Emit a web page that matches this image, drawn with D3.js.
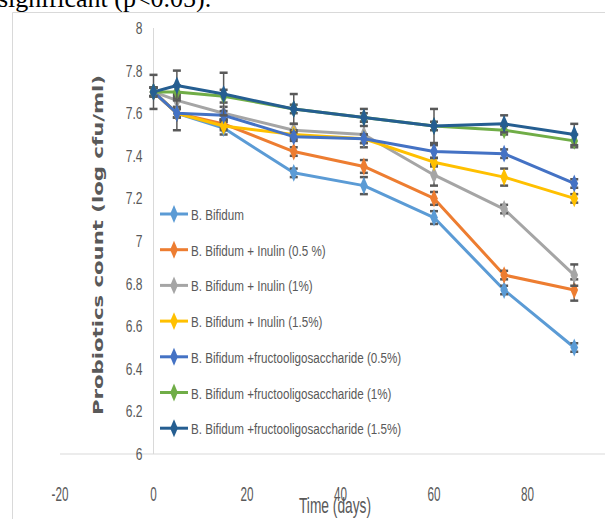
<!DOCTYPE html>
<html lang="en">
<head>
    <meta charset="UTF-8">
    <title>Probiotics count over time</title>
    <script src="https://d3js.org/d3.v7.min.js"></script>
    <style>
        body { margin: 0; background: #fff; }
        .narrow { font-family: "Liberation Sans", Arial, sans-serif; fill: #595959; }
    </style>
</head>
<body>
    <svg class="chart"></svg>

    <script>
        // sampling days
        var days = [0, 5, 15, 30, 45, 60, 75, 90];

        var seriesNames = [
            'B. Bifidum',
            'B. Bifidum + Inulin (0.5 %)',
            'B. Bifidum + Inulin (1%)',
            'B. Bifidum + Inulin (1.5%)',
            'B. Bifidum +fructooligosaccharide (0.5%)',
            'B. Bifidum +fructooligosaccharide (1%)',
            'B. Bifidum +fructooligosaccharide (1.5%)'
        ];
        var seriesColors = ['#5B9BD5', '#ED7D31', '#A5A5A5', '#FFC000', '#4472C4', '#70AD47', '#255E91'];

        // log cfu/ml
        var bifidum      = [7.70, 7.60, 7.53, 7.32, 7.26, 7.11, 6.77, 6.50];
        var inulin05     = [7.70, 7.60, 7.55, 7.42, 7.35, 7.20, 6.84, 6.77];
        var inulin1      = [7.70, 7.66, 7.60, 7.52, 7.50, 7.31, 7.15, 6.84];
        var inulin15     = [7.70, 7.60, 7.54, 7.50, 7.48, 7.37, 7.30, 7.20];
        var fos05        = [7.70, 7.60, 7.59, 7.49, 7.48, 7.42, 7.41, 7.27];
        var fos1         = [7.70, 7.70, 7.68, 7.62, 7.58, 7.54, 7.52, 7.47];
        var fos15        = [7.70, 7.73, 7.69, 7.62, 7.58, 7.54, 7.55, 7.50];

        // error bar half widths
        var bifidumErr   = [0.02, 0.02, 0.03, 0.02, 0.04, 0.03, 0.02, 0.02];
        var inulin05Err  = [0.02, 0.02, 0.02, 0.02, 0.03, 0.03, 0.02, 0.05];
        var inulin1Err   = [0.02, 0.03, 0.03, 0.03, 0.06, 0.05, 0.02, 0.05];
        var inulin15Err  = [0.02, 0.02, 0.02, 0.02, 0.02, 0.02, 0.04, 0.02];
        var fos05Err     = [0.02, 0.08, 0.02, 0.02, 0.02, 0.03, 0.02, 0.02];
        var fos1Err      = [0.02, 0.03, 0.03, 0.02, 0.02, 0.02, 0.02, 0.03];
        var fos15Err     = [0.08, 0.07, 0.10, 0.07, 0.04, 0.08, 0.04, 0.05];

        // the crop stops before the 100 label
        var xTicks = [-20, 0, 20, 40, 60, 80];
        var yTicks = [6, 6.2, 6.4, 6.6, 6.8, 7, 7.2, 7.4, 7.6, 7.8, 8];

        var values = [bifidum, inulin05, inulin1, inulin15, fos05, fos1, fos15];
        var errors = [bifidumErr, inulin05Err, inulin1Err, inulin15Err, fos05Err, fos1Err, fos15Err];

        var svgWidth = 605, svgHeight = 519;

        var svg = d3.select('.chart')
                    .attr('width', svgWidth)
                    .attr('height', svgHeight);

        var x = d3.scaleLinear().domain([-20, 100]).range([60, 621]);
        var y = d3.scaleLinear().domain([6, 8]).range([454, 28]);

        // the figure was stretched tall, so its text looks narrow
        function at(px, py, sx) {
            return 'translate(' + px + ',' + py + ') scale(' + sx + ',1)';
        }

        // text above the figure, cut off by the crop
        svg.append('text')
           .attr('x', -2).attr('y', 7)
           .attr('font-family', '"Liberation Serif", serif')
           .attr('font-size', 26)
           .text('significant (p<0.05).');

        // figure frame
        svg.append('path')
           .attr('d', 'M12.5,' + svgHeight + 'V12.5H' + svgWidth)
           .attr('fill', 'none')
           .attr('stroke', '#d9d9d9');

        // axes lines cross at x=0 and y=6
        svg.append('line')
           .attr('x1', x(-20)).attr('x2', x(100))
           .attr('y1', y(6)).attr('y2', y(6))
           .attr('stroke', '#d9d9d9');
        svg.append('line')
           .attr('x1', x(0)).attr('x2', x(0))
           .attr('y1', y(8)).attr('y2', y(6))
           .attr('stroke', '#d9d9d9');

        // y tick labels
        svg.selectAll('.ytick')
           .data(yTicks)
           .enter().append('text')
           .attr('class', 'narrow')
           .attr('transform', d => at(x(0) - 11, y(d) + 6, 0.71))
           .attr('text-anchor', 'end')
           .attr('font-size', 17)
           .text(d => d3.format('~g')(d));

        // x tick labels sit low, below the plot
        svg.selectAll('.xtick')
           .data(xTicks)
           .enter().append('text')
           .attr('class', 'narrow')
           .attr('transform', d => at(x(d), 501, 0.6))
           .attr('text-anchor', 'middle')
           .attr('font-size', 19.5)
           .text(d => d);

        // axis titles
        svg.append('text')
           .attr('transform', 'translate(103,245) rotate(-90)')
           .attr('text-anchor', 'middle')
           .attr('font-family', '"DejaVu Sans", sans-serif')
           .attr('font-weight', 'bold')
           .attr('font-size', 14)
           .attr('textLength', 340)
           .attr('lengthAdjust', 'spacingAndGlyphs')
           .attr('fill', '#595959')
           .text('Probiotics count (log cfu/ml)');

        svg.append('text')
           .attr('class', 'narrow')
           .attr('transform', at(335, 513, 0.64))
           .attr('text-anchor', 'middle')
           .attr('font-size', 21.5)
           .text('Time (days)');

        var line = d3.line()
                     .x((d, i) => x(days[i]))
                     .y(d => y(d));

        var diamond = d3.symbol().type(d3.symbolDiamond).size(70);

        values.forEach(function (vals, s) {
            var g = svg.append('g');
            var color = seriesColors[s];

            g.append('path')
             .datum(vals)
             .attr('fill', 'none')
             .attr('stroke', color)
             .attr('stroke-width', 3)
             .attr('stroke-linejoin', 'round')
             .attr('d', line);

            // error bars
            var eb = g.selectAll('.err')
                      .data(vals)
                      .enter().append('g')
                      .attr('stroke', '#595959');
            eb.append('line')
              .attr('x1', (d, i) => x(days[i])).attr('x2', (d, i) => x(days[i]))
              .attr('y1', (d, i) => y(d + errors[s][i]))
              .attr('y2', (d, i) => y(d - errors[s][i]))
              .attr('stroke-width', 1.5);
            eb.append('line')
              .attr('x1', (d, i) => x(days[i]) - 4).attr('x2', (d, i) => x(days[i]) + 4)
              .attr('y1', (d, i) => y(d + errors[s][i]))
              .attr('y2', (d, i) => y(d + errors[s][i]))
              .attr('stroke-width', 2.5);
            eb.append('line')
              .attr('x1', (d, i) => x(days[i]) - 4).attr('x2', (d, i) => x(days[i]) + 4)
              .attr('y1', (d, i) => y(d - errors[s][i]))
              .attr('y2', (d, i) => y(d - errors[s][i]))
              .attr('stroke-width', 2.5);

            g.selectAll('.pt')
             .data(vals)
             .enter().append('path')
             .attr('d', diamond)
             .attr('transform', (d, i) => 'translate(' + x(days[i]) + ',' + y(d) + ') scale(0.85,1.15)')
             .attr('fill', color);
        });

        // legend
        var legend = svg.selectAll('.legend')
                        .data(seriesNames)
                        .enter().append('g')
                        .attr('transform', (d, i) => 'translate(160,' + (214 + i * 35.7) + ')');
        legend.append('line')
              .attr('x1', 0).attr('x2', 28)
              .attr('stroke', (d, i) => seriesColors[i])
              .attr('stroke-width', 3);
        legend.append('path')
              .attr('d', diamond)
              .attr('transform', 'translate(14,0) scale(0.85,1.15)')
              .attr('fill', (d, i) => seriesColors[i]);
        legend.append('text')
              .attr('class', 'narrow')
              .attr('transform', at(31, 6, 0.75))
              .attr('font-size', 15.5)
              .text(d => d);
    </script>
</body>
</html>
